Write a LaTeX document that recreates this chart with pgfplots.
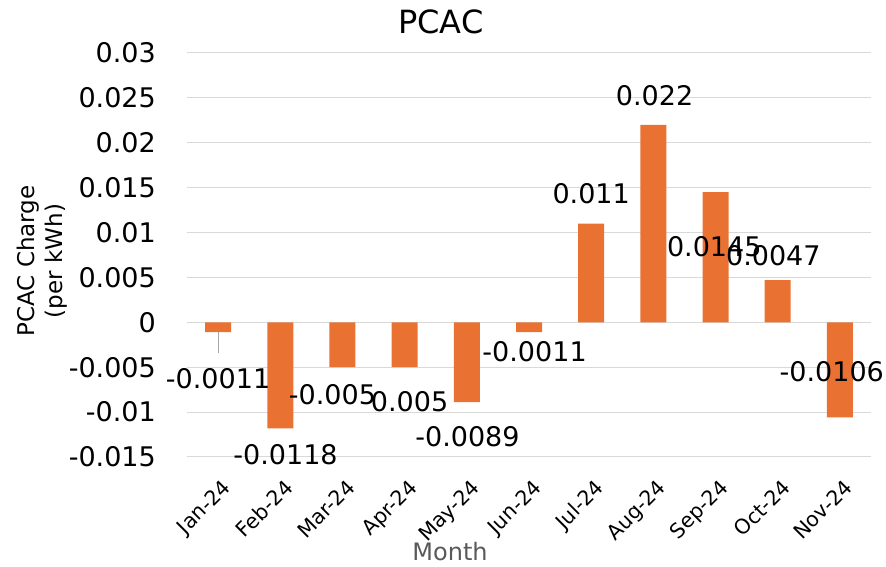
\documentclass[border=0pt]{standalone}
\usepackage{pgfplots}
\pgfplotsset{compat=1.18}
\usepackage{fontspec}
\setmainfont{DejaVu Sans}
\definecolor{barc}{HTML}{E97132}
\definecolor{gridc}{HTML}{D9D9D9}
\definecolor{labc}{HTML}{595959}
\begin{document}
\begin{tikzpicture}
\useasboundingbox (-187pt,-110pt) rectangle (699pt,457pt);
\begin{axis}[
  at={(0pt,0pt)}, anchor=south west, scale only axis,
  width=684pt, height=404pt,
  xmin=-0.5, xmax=10.5, ymin=-0.015, ymax=0.03,
  ybar, bar width=26pt,
  clip=false, scaled y ticks=false,
  axis line style={draw=none},
  major tick length=0pt, tick style={draw=none},
  ymajorgrids, grid style={color=gridc, line width=1pt},
  xtick={0,...,10},
  xticklabels={Jan-24,Feb-24,Mar-24,Apr-24,May-24,Jun-24,Jul-24,Aug-24,Sep-24,Oct-24,Nov-24},
  xticklabel style={font=\fontsize{20.5}{24}\selectfont, inner sep=0pt, yshift=-21pt, xshift=3pt, rotate=45, anchor=north east},
  ytick={-0.015,-0.01,-0.005,0,0.005,0.01,0.015,0.02,0.025,0.03},
  yticklabels={-0.015,-0.01,-0.005,0,0.005,0.01,0.015,0.02,0.025,0.03},
  yticklabel style={font=\fontsize{27}{32}\selectfont, anchor=east, inner sep=0pt, xshift=-31pt},
]
\addplot[fill=barc, draw=none] coordinates {
 (0,-0.0011) (1,-0.0118) (2,-0.005) (3,-0.005) (4,-0.0089) (5,-0.0011)
 (6,0.011) (7,0.022) (8,0.0145) (9,0.0047) (10,-0.0106)};
\draw[color=gray!70, line width=1pt] (axis cs:0,-0.0011) -- (axis cs:0,-0.00338);
\begin{scope}[every node/.style={font=\fontsize{27}{32}\selectfont, inner sep=0pt}]
\node at (axis cs:0,-0.00625) {-0.0011};
\node at (axis cs:1.085,-0.01473) {-0.0118};
\node at (axis cs:1.84,-0.00804) {-0.005};
\node at (axis cs:3.08,-0.0088) {0.005};
\node at (axis cs:4.01,-0.01272) {-0.0089};
\node at (axis cs:5.09,-0.00324) {-0.0011};
\node at (axis cs:6.0,0.01429) {0.011};
\node at (axis cs:7.02,0.02522) {0.022};
\node at (axis cs:7.98,0.00848) {0.0145};
\node at (axis cs:8.93,0.00748) {0.0047};
\node at (axis cs:9.87,-0.00547) {-0.0106};
\end{scope}
\end{axis}
\node[font=\fontsize{32}{38}\selectfont] at (254pt,435pt) {PCAC};
\node[font=\fontsize{23}{28}\selectfont, rotate=90, align=center] at (-145pt,196pt) {PCAC Charge\\(per kWh)};
\node[font=\fontsize{24}{28}\selectfont, text=labc] at (263pt,-95pt) {Month};
\end{tikzpicture}
\end{document}
